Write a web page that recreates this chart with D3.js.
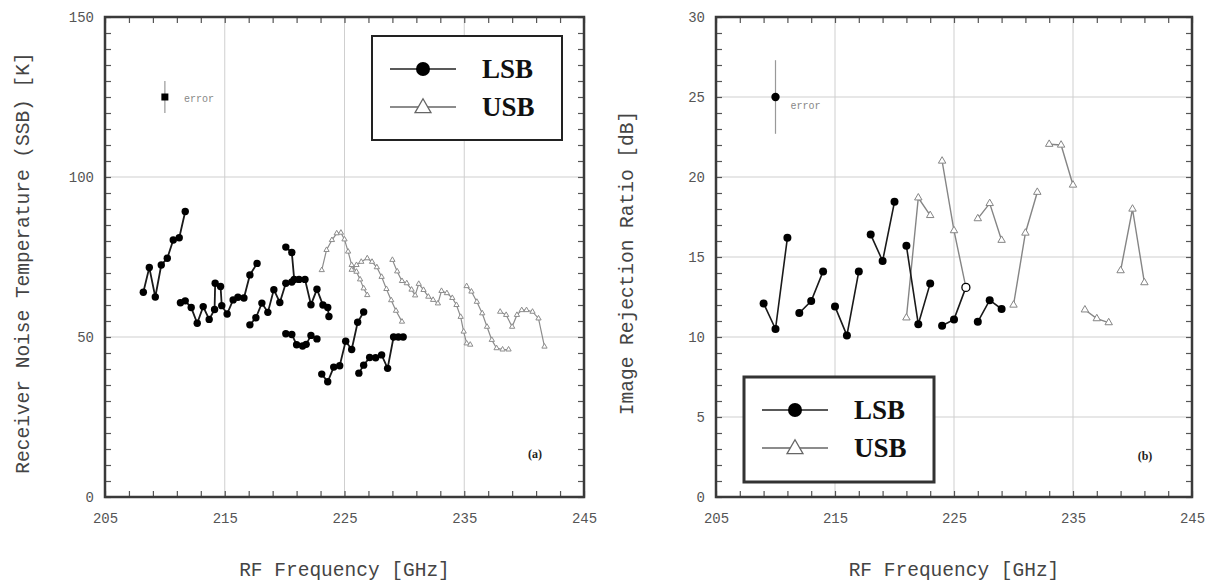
<!DOCTYPE html>
<html>
<head>
<meta charset="utf-8">
<script src="https://cdn.jsdelivr.net/npm/d3@7/dist/d3.min.js"></script>
<style>
  html, body { margin: 0; padding: 0; background: #fff; }
  svg { display: block; }
  .tick-label { font-family: "Liberation Mono", "DejaVu Sans Mono", monospace; font-size: 14px; fill: #555; }
  .axis-title { font-family: "Liberation Mono", "DejaVu Sans Mono", monospace; font-size: 19.5px; fill: #444; }
  .legend-text { font-family: "Liberation Serif", "Times New Roman", serif; font-size: 27px; font-weight: bold; fill: #111; }
  .panel-tag { font-family: "Liberation Serif", "Times New Roman", serif; font-size: 12px; font-weight: bold; fill: #222; }
  .error-text { font-family: "Liberation Mono", "DejaVu Sans Mono", monospace; font-size: 10px; fill: #888; }
</style>
</head>
<body>
<svg id="chart" width="1221" height="581"></svg>
<script>
// axes
const freqDomain = [205, 245];
const freqTicks = [205, 215, 225, 235, 245];
const freqGrid = [215, 225, 235];
const noiseDomain = [0, 150];
const noiseTicks = [0, 50, 100, 150];
const noiseGrid = [50, 100];
const rejectionDomain = [0, 30];
const rejectionTicks = [0, 5, 10, 15, 20, 25, 30];
const rejectionGrid = [5, 10, 15, 20, 25];

// (a) receiver noise temperature, [GHz, K]
const lsbNoise1 = [[208.2, 64.0], [208.7, 71.7], [209.2, 62.5], [209.7, 72.5], [210.2, 74.6], [210.7, 80.3], [211.2, 81.0], [211.7, 89.2]];
const lsbNoise2 = [[211.3, 60.7], [211.7, 61.3], [212.2, 59.2], [212.7, 54.3], [213.2, 59.5], [213.7, 55.5], [214.15, 58.6], [214.2, 66.8],
  [214.65, 65.8], [214.75, 59.8], [215.2, 57.2], [215.7, 61.6], [216.1, 62.4], [216.6, 62.2], [217.1, 69.4], [217.7, 73.0]];
const lsbNoise3 = [[217.1, 53.8], [217.6, 56.0], [218.1, 60.6], [218.6, 57.7], [219.1, 64.8], [219.6, 60.8], [220.1, 66.8], [220.6, 67.2],
  [221.2, 68.0], [221.7, 68.0], [222.2, 60.1], [222.7, 64.9], [223.2, 60.0], [223.6, 59.2], [223.7, 56.4]];
const lsbNoise4 = [[220.1, 78.1], [220.6, 76.4], [220.8, 68.0]];
const lsbNoise5 = [[220.1, 51.0], [220.6, 50.8], [221.0, 47.6], [221.5, 47.2], [221.8, 47.7], [222.2, 50.5], [222.7, 49.4]];
const lsbNoise6 = [[223.1, 38.4], [223.6, 36.0], [224.1, 40.6], [224.6, 41.0], [225.1, 48.7], [225.6, 46.1], [226.1, 54.6], [226.6, 57.8]];
const lsbNoise7 = [[226.2, 38.7], [226.6, 41.2], [227.1, 43.6], [227.6, 43.5], [228.1, 44.4], [228.6, 40.2], [229.1, 50.0], [229.5, 50.0], [229.9, 50.0]];

const usbNoise1 = [[223.1, 70.9], [223.5, 77.2], [223.95, 80.3], [224.35, 82.4], [224.7, 82.6], [225.0, 80.5], [225.3, 76.7], [225.6, 72.5],
  [226.0, 70.4], [226.3, 68.0], [226.6, 65.2], [226.9, 63.1]];
const usbNoise2 = [[225.6, 71.0], [226.0, 72.5], [226.4, 73.5], [226.9, 74.6], [227.3, 73.5], [227.7, 71.8], [228.1, 68.8], [228.5, 65.0],
  [228.9, 61.5], [229.3, 58.2], [229.8, 54.8]];
const usbNoise3 = [[229.0, 74.1], [229.4, 70.5], [229.8, 67.5], [230.2, 66.8], [230.6, 64.8], [230.9, 63.0], [231.2, 66.6], [231.6, 64.7],
  [232.0, 62.6], [232.4, 61.6], [232.8, 60.5], [233.1, 64.4], [233.55, 63.7], [234.0, 62.2], [234.35, 60.0], [234.7, 56.3], [234.95, 51.7],
  [235.2, 48.0], [235.5, 47.6]];
const usbNoise4 = [[235.2, 65.9], [235.6, 64.2], [236.05, 61.0], [236.5, 57.4], [236.9, 53.2], [237.3, 49.1], [237.7, 46.5], [238.2, 46.1], [238.7, 46.1]];
const usbNoise5 = [[238.0, 57.9], [238.5, 56.9], [239.0, 53.2], [239.4, 56.9], [239.8, 58.4], [240.2, 58.4], [240.7, 57.9], [241.2, 55.8], [241.7, 47.0]];

const noiseError = { freq: 210, value: 125, low: 120, high: 130 };

// (b) image rejection ratio, [GHz, dB]
const lsbRejection1 = [[209, 12.1], [210, 10.5], [211, 16.2]];
const lsbRejection2 = [[212, 11.5], [213, 12.25], [214, 14.1]];
const lsbRejection3 = [[215, 11.9], [216, 10.1], [217, 14.1]];
const lsbRejection4 = [[218, 16.4], [219, 14.75], [220, 18.45]];
const lsbRejection5 = [[221, 15.7], [222, 10.8], [223, 13.35]];
const lsbRejection6 = [[224, 10.7], [225, 11.1], [226, 13.1]];
const lsbRejection7 = [[227, 10.95], [228, 12.3], [229, 11.75]];

const usbRejection1 = [[221, 11.2], [222, 18.7], [223, 17.6]];
const usbRejection2 = [[224, 21.0], [225, 16.65], [226, 13.1]];
const usbRejection3 = [[227, 17.4], [228, 18.35], [229, 16.05]];
const usbRejection4 = [[230, 12.0], [231, 16.5], [232, 19.05]];
const usbRejection5 = [[233, 22.05], [234, 22.0], [235, 19.5]];
const usbRejection6 = [[236, 11.7], [237, 11.15], [238, 10.9]];
const usbRejection7 = [[239, 14.15], [240, 18.0], [241, 13.4]];

const rejectionError = { freq: 210, value: 25, low: 22.7, high: 27.3 };

const svg = d3.select('#chart');
svg.append('rect').attr('width', 1221).attr('height', 581).attr('fill', '#fff');

function drawPanel(opts) {
  const w = opts.width;
  const h = opts.height;
  const g = svg.append('g').attr('transform', `translate(${opts.left},${opts.top})`);

  const x = d3.scaleLinear().domain(freqDomain).range([0, w]);
  const y = d3.scaleLinear().domain(opts.yDomain).range([h, 0]);

  // grid
  g.append('g').selectAll('line.gx').data(freqGrid).join('line')
    .attr('x1', (d) => x(d)).attr('x2', (d) => x(d))
    .attr('y1', 0).attr('y2', h)
    .attr('stroke', '#cfcfcf').attr('stroke-width', 1);
  g.append('g').selectAll('line.gy').data(opts.yGrid).join('line')
    .attr('x1', 0).attr('x2', w)
    .attr('y1', (d) => y(d)).attr('y2', (d) => y(d))
    .attr('stroke', '#cfcfcf').attr('stroke-width', 1);

  // inward ticks on all four sides
  const minorY = d3.range(opts.yDomain[0], opts.yDomain[1] + 0.001, opts.yMinor);
  const minorX = d3.range(freqDomain[0], freqDomain[1] + 0.001, 2);
  const tickStyle = (axis) => {
    axis.select('.domain').remove();
    axis.selectAll('.tick line').attr('stroke', '#555').attr('stroke-width', 1.2);
  };

  g.append('g').call(d3.axisLeft(y).tickValues(minorY).tickSize(-6).tickFormat('')).call(tickStyle);
  g.append('g').attr('transform', `translate(${w},0)`)
    .call(d3.axisRight(y).tickValues(minorY).tickSize(-6).tickFormat('')).call(tickStyle);
  g.append('g').attr('transform', `translate(0,${h})`)
    .call(d3.axisBottom(x).tickValues(minorX).tickSize(-6).tickFormat('')).call(tickStyle);
  g.append('g')
    .call(d3.axisTop(x).tickValues(minorX).tickSize(-6).tickFormat('')).call(tickStyle);

  // tick labels
  const yLabels = g.append('g')
    .call(d3.axisLeft(y).tickValues(opts.yTicks).tickSize(0).tickPadding(11).tickFormat(d3.format('d')));
  yLabels.select('.domain').remove();
  yLabels.selectAll('text').attr('class', 'tick-label').attr('fill', null);
  yLabels.attr('font-family', null).attr('font-size', null);

  const xLabels = g.append('g').attr('transform', `translate(0,${h})`)
    .call(d3.axisBottom(x).tickValues(freqTicks).tickSize(0).tickPadding(16).tickFormat(d3.format('d')));
  xLabels.select('.domain').remove();
  xLabels.selectAll('text').attr('class', 'tick-label').attr('fill', null);
  xLabels.attr('font-family', null).attr('font-size', null);

  // axis titles
  g.append('text')
    .attr('class', 'axis-title')
    .attr('transform', `translate(${opts.yTitleX},${h / 2 + 6}) rotate(-90)`)
    .attr('text-anchor', 'middle')
    .attr('dominant-baseline', 'central')
    .text(opts.yTitle);
  g.append('text')
    .attr('class', 'axis-title')
    .attr('x', w / 2)
    .attr('y', h + 74)
    .attr('text-anchor', 'middle')
    .attr('dominant-baseline', 'central')
    .text('RF Frequency [GHz]');

  // legend box (white, covers grid)
  const lg = g.append('g').attr('transform', `translate(${opts.legend.x},${opts.legend.y})`);
  lg.append('rect')
    .attr('width', opts.legend.w).attr('height', opts.legend.h)
    .attr('fill', '#fff').attr('stroke', opts.legend.stroke).attr('stroke-width', opts.legend.strokeWidth);
  const rows = [
    { name: 'LSB', cy: 33, lsb: true },
    { name: 'USB', cy: 71, lsb: false },
  ];
  rows.forEach((row) => {
    lg.append('line')
      .attr('x1', 18).attr('x2', 84).attr('y1', row.cy).attr('y2', row.cy)
      .attr('stroke', row.lsb ? '#222' : '#666').attr('stroke-width', 1.5);
    if (row.lsb) {
      lg.append('circle').attr('cx', 51).attr('cy', row.cy).attr('r', 7).attr('fill', '#000');
    } else {
      lg.append('path')
        .attr('d', d3.symbol().type(d3.symbolTriangle).size(110)())
        .attr('transform', `translate(51,${row.cy + 1})`)
        .attr('fill', '#fff').attr('stroke', '#666').attr('stroke-width', 1.3);
    }
    lg.append('text')
      .attr('class', 'legend-text')
      .attr('x', 110).attr('y', row.cy)
      .attr('dominant-baseline', 'central')
      .text(row.name);
  });

  // error marker
  const err = opts.error;
  g.append('line')
    .attr('x1', x(err.freq)).attr('x2', x(err.freq))
    .attr('y1', y(err.low)).attr('y2', y(err.high))
    .attr('stroke', '#999').attr('stroke-width', 1.2);
  if (opts.errorShape === 'square') {
    g.append('rect')
      .attr('x', x(err.freq) - 3.5).attr('y', y(err.value) - 3.5)
      .attr('width', 7).attr('height', 7).attr('fill', '#000');
  } else {
    g.append('circle').attr('cx', x(err.freq)).attr('cy', y(err.value)).attr('r', 4.2).attr('fill', '#000');
  }
  g.append('text')
    .attr('class', 'error-text')
    .attr('x', x(err.freq) + opts.errorTextDx)
    .attr('y', y(err.value) + opts.errorTextDy)
    .attr('dominant-baseline', 'central')
    .text('error');

  // series
  const line = d3.line().x((d) => x(d[0])).y((d) => y(d[1]));

  opts.usb.forEach((seg) => {
    g.append('path').datum(seg)
      .attr('d', line).attr('fill', 'none')
      .attr('stroke', opts.usbStroke).attr('stroke-width', opts.usbWidth);
  });
  opts.usb.forEach((seg) => {
    g.append('g').selectAll('path').data(seg).join('path')
      .attr('d', d3.symbol().type(d3.symbolTriangle).size(opts.triSize)())
      .attr('transform', (d) => `translate(${x(d[0])},${y(d[1])})`)
      .attr('fill', '#fff').attr('stroke', opts.usbStroke).attr('stroke-width', 1);
  });

  const usbPoints = opts.usb.flat();
  const sharedWithUsb = (d) => usbPoints.some((u) => u[0] === d[0] && u[1] === d[1]);

  opts.lsb.forEach((seg) => {
    g.append('path').datum(seg)
      .attr('d', line).attr('fill', 'none')
      .attr('stroke', '#1a1a1a').attr('stroke-width', opts.lsbWidth);
    g.append('g').selectAll('circle').data(seg).join('circle')
      .attr('cx', (d) => x(d[0])).attr('cy', (d) => y(d[1]))
      .attr('r', opts.dotRadius)
      .attr('fill', (d) => (sharedWithUsb(d) ? '#fff' : '#000'))
      .attr('stroke', '#000').attr('stroke-width', (d) => (sharedWithUsb(d) ? 1.3 : 0));
  });

  // frame
  g.append('rect')
    .attr('width', w).attr('height', h)
    .attr('fill', 'none').attr('stroke', '#3a3a3a').attr('stroke-width', 2.5);

  g.append('text')
    .attr('class', 'panel-tag')
    .attr('x', opts.tag.x).attr('y', opts.tag.y)
    .attr('text-anchor', 'middle').attr('dominant-baseline', 'central')
    .text(opts.tag.text);
}

drawPanel({
  left: 105, top: 17, width: 479, height: 480,
  yDomain: noiseDomain, yTicks: noiseTicks, yGrid: noiseGrid, yMinor: 5,
  yTitle: 'Receiver Noise Temperature (SSB) [K]', yTitleX: -81,
  legend: { x: 267, y: 19, w: 190, h: 104, stroke: '#222', strokeWidth: 2 },
  error: noiseError, errorShape: 'square', errorTextDx: 19, errorTextDy: 2,
  lsb: [lsbNoise1, lsbNoise2, lsbNoise3, lsbNoise4, lsbNoise5, lsbNoise6, lsbNoise7],
  usb: [usbNoise1, usbNoise2, usbNoise3, usbNoise4, usbNoise5],
  usbStroke: '#8c8c8c', usbWidth: 1.2, triSize: 12, dotRadius: 3.7, lsbWidth: 1.8,
  tag: { x: 430, y: 437, text: '(a)' },
});

drawPanel({
  left: 716, top: 17, width: 476, height: 480,
  yDomain: rejectionDomain, yTicks: rejectionTicks, yGrid: rejectionGrid, yMinor: 1,
  yTitle: 'Image Rejection Ratio [dB]', yTitleX: -88,
  legend: { x: 28, y: 360, w: 190, h: 105, stroke: '#333', strokeWidth: 3 },
  error: rejectionError, errorShape: 'circle', errorTextDx: 15, errorTextDy: 9,
  lsb: [lsbRejection1, lsbRejection2, lsbRejection3, lsbRejection4, lsbRejection5, lsbRejection6, lsbRejection7],
  usb: [usbRejection1, usbRejection2, usbRejection3, usbRejection4, usbRejection5, usbRejection6, usbRejection7],
  usbStroke: '#858585', usbWidth: 1.4, triSize: 24, dotRadius: 4, lsbWidth: 1.6,
  tag: { x: 429, y: 439, text: '(b)' },
});
</script>
</body>
</html>
